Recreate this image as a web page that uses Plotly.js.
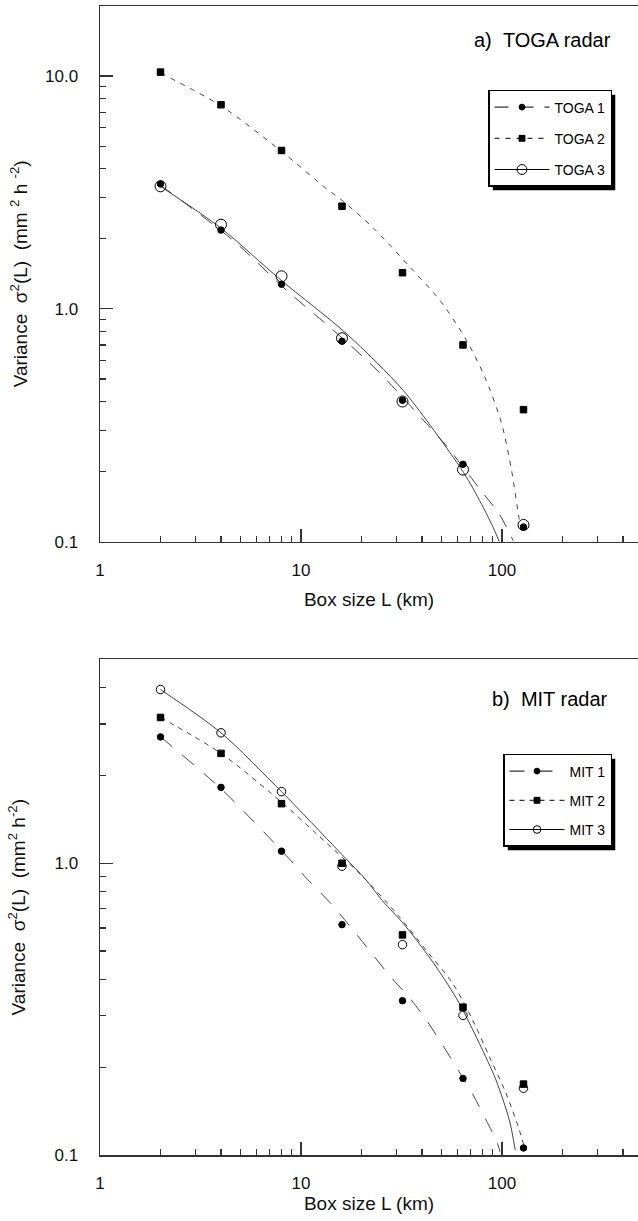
<!DOCTYPE html>
<html><head><meta charset="utf-8">
<script src="https://cdn.plot.ly/plotly-3.0.1.min.js"></script>
<style>html,body{margin:0;padding:0;background:#fff;} #chart{width:638px;height:1221px;}</style>
</head><body><div id="chart"></div>
<script>
// ---- data ----
const boxSize = [2, 4, 8, 16, 32, 64, 128];

// panel a) TOGA radar: measured variances
const toga1 = [3.44, 2.18, 1.276, 0.726, 0.405, 0.215, 0.1156];
const toga2 = [10.4, 7.53, 4.79, 2.76, 1.43, 0.70, 0.369];
const toga3 = [3.36, 2.30, 1.38, 0.748, 0.400, 0.204, 0.118];

// panel a) fitted curves (points read along the drawn curves)
const toga1FitL = [2, 4.59, 8.49, 13.9, 18.9, 24.7, 40.6, 53.1, 77.7, 97.7, 113.8];
const toga1FitV = [3.40, 1.97, 1.20, 0.835, 0.66, 0.53, 0.333, 0.257, 0.168, 0.130, 0.101];
const toga2FitL = [2, 4, 8, 13.4, 16.2, 23.1, 34.9, 49.2, 66.7, 82.3, 99.7, 111.7, 121.5, 125.3];
const toga2FitV = [10.3, 7.45, 4.75, 3.28, 2.90, 2.21, 1.51, 1.086, 0.731, 0.508, 0.321, 0.202, 0.127, 0.111];
const toga3FitL = [2, 4, 7.86, 16.9, 32.3, 57.3, 66.7, 80.7, 90.5, 97];
const toga3FitV = [3.36, 2.22, 1.34, 0.78, 0.446, 0.230, 0.189, 0.1404, 0.115, 0.1];

// panel b) MIT radar: measured variances
const mit1 = [2.71, 1.82, 1.10, 0.616, 0.338, 0.183, 0.1057];
const mit2 = [3.16, 2.38, 1.60, 1.00, 0.568, 0.321, 0.175];
const mit3 = [3.94, 2.80, 1.76, 0.977, 0.526, 0.301, 0.1694];

// panel b) fitted curves
const mit1FitL = [2, 4, 8.69, 10.8, 14.1, 18.1, 22.8, 28.2, 34.8, 42.5, 51.5, 61.2, 72.8, 83.2, 94.4, 97.8];
const mit1FitV = [2.71, 1.80, 1.04, 0.879, 0.727, 0.592, 0.485, 0.405, 0.345, 0.287, 0.234, 0.193, 0.158, 0.132, 0.111, 0.1026];
const mit2FitL = [2, 4, 8, 12.3, 20.2, 30.7, 41.8, 56.7, 71.4, 86.5, 104.7, 122, 129];
const mit2FitV = [3.16, 2.38, 1.62, 1.238, 0.902, 0.658, 0.505, 0.3885, 0.2906, 0.2175, 0.163, 0.1219, 0.1068];
const mit3FitL = [2, 4, 8, 15.4, 21, 25.4, 33.2, 46.9, 61.2, 77.1, 93.3, 108.8, 116.5];
const mit3FitV = [3.94, 2.80, 1.76, 1.10, 0.879, 0.745, 0.608, 0.443, 0.332, 0.2416, 0.181, 0.1318, 0.104];

const togaNames = ['TOGA 1', 'TOGA 2', 'TOGA 3'];
const mitNames = ['MIT 1', 'MIT 2', 'MIT 3'];
const panelLabels = ['a)\u00a0\u00a0TOGA radar', 'b)\u00a0\u00a0MIT radar'];
const xTitle = 'Box size L (km)';
const yTitleA = 'Variance\u00a0\u00a0\u03c3<sup>2</sup>(L)\u00a0\u00a0(mm\u00a0<sup>2</sup>\u00a0h\u00a0<sup>-2</sup>)';
const yTitleB = 'Variance\u00a0\u00a0\u03c3<sup>2</sup>(L)\u00a0\u00a0(mm<sup>2</sup>\u00a0h<sup>-2</sup>)';

// ---- styling ----
const FONT = 'Liberation Sans, Arial, Helvetica, sans-serif';
const LINE_COL = '#444';
const styleA = [
  {dash: '14px,11px', symbol: 'circle', size: 6.5},
  {dash: '5px,6px', symbol: 'square', size: 6.5},
  {dash: 'solid', symbol: 'circle-open', size: 11}
];
const styleB = [
  {dash: '15px,13px', symbol: 'circle', size: 6.5},
  {dash: '5px,5px', symbol: 'square', size: 6.5},
  {dash: 'solid', symbol: 'circle-open', size: 8.5}
];

function panelTraces(fits, pts, names, styles, xa, ya, leg) {
  const tr = [];
  fits.forEach((f, i) => tr.push({
    x: f[0], y: f[1], xaxis: xa, yaxis: ya, mode: 'lines', type: 'scatter',
    line: {color: LINE_COL, width: 1, dash: styles[i].dash, shape: 'spline', smoothing: 0.8},
    showlegend: false, hoverinfo: 'skip', legendgroup: leg + i
  }));
  [2, 1, 0].forEach(i => tr.push({
    x: boxSize, y: pts[i], xaxis: xa, yaxis: ya, mode: 'markers', type: 'scatter',
    marker: {symbol: styles[i].symbol, size: styles[i].size, color: '#000',
             line: {color: '#000', width: 1}},
    showlegend: false, legendgroup: leg + i, name: names[i]
  }));
  [0, 1, 2].forEach(i => tr.push({
    x: [null], y: [null], xaxis: xa, yaxis: ya, mode: 'lines+markers', type: 'scatter',
    name: names[i], legend: leg, legendgroup: leg + i,
    line: {color: '#000', width: 1, dash: styles[i].dash},
    marker: {symbol: styles[i].symbol, size: styles[i].size * 0.9, color: '#000',
             line: {color: '#000', width: 1}},
    showlegend: true
  }));
  return tr;
}

const data = [].concat(
  panelTraces([[toga1FitL, toga1FitV], [toga2FitL, toga2FitV], [toga3FitL, toga3FitV]],
              [toga1, toga2, toga3], togaNames, styleA, 'x', 'y', 'legend'),
  panelTraces([[mit1FitL, mit1FitV], [mit2FitL, mit2FitV], [mit3FitL, mit3FitV]],
              [mit1, mit2, mit3], mitNames, styleB, 'x2', 'y2', 'legend2')
);

function xAxis(anchor, standoff) {
  return {
    type: 'log', range: [0, 2.677], anchor: anchor, domain: [0, 1],
    showline: true, linecolor: '#333', linewidth: 1.5, mirror: true,
    ticks: 'inside', ticklen: 13, tickwidth: 1.2, tickcolor: '#333', dtick: 1,
    minor: {ticks: 'inside', ticklen: 6, tickwidth: 1.2, tickcolor: '#333', dtick: 'D1'},
    showgrid: false, zeroline: false, ticklabelstandoff: 12, automargin: false,
    tickfont: {family: FONT, size: 17, color: '#111'},
    title: {text: xTitle, font: {family: FONT, size: 19, color: '#111'}, standoff: standoff}
  };
}
function yAxis(anchor, domain, top, title, standoff) {
  return {
    type: 'log', range: [-1, top], anchor: anchor, domain: domain,
    showline: true, linecolor: '#333', linewidth: 1.5, mirror: false,
    ticks: 'inside', ticklen: 13, tickwidth: 1.2, tickcolor: '#333', dtick: 1, tickformat: '.1f',
    minor: {ticks: 'inside', ticklen: 6, tickwidth: 1.2, tickcolor: '#333', dtick: 'D1'},
    showgrid: false, zeroline: false, ticklabelstandoff: 17, automargin: false,
    tickfont: {family: FONT, size: 17, color: '#111'},
    title: {text: title, font: {family: FONT, size: 19, color: '#111'}, standoff: standoff}
  };
}
const legendBase = {
  xref: 'paper', yref: 'paper', xanchor: 'right', yanchor: 'top',
  bgcolor: '#fff', bordercolor: '#000', borderwidth: 1.5,
  font: {family: FONT, size: 14, color: '#000'}, itemwidth: 55,
  itemclick: false, itemdoubleclick: false
};

const layout = {
  width: 638, height: 1221, paper_bgcolor: '#fff', plot_bgcolor: '#fff',
  margin: {l: 100, r: 0, t: 6, b: 66, autoexpand: false}, showlegend: true,
  font: {family: FONT, color: '#000'},
  xaxis: xAxis('y', 14),
  yaxis: yAxis('x', [0.5338, 1], Math.log10(20), yTitleA, 12),
  xaxis2: xAxis('y2', 4),
  yaxis2: yAxis('x2', [0, 0.4314], Math.log10(5), yTitleB, 24),
  legend: Object.assign({}, legendBase, {x: 0.9517, y: 0.9269, tracegroupgap: 10}),
  legend2: Object.assign({}, legendBase, {x: 0.9517, y: 0.349, tracegroupgap: 8}),
  annotations: [
    {text: panelLabels[0], xref: 'x domain', yref: 'y domain', x: 0.9535, y: 0.936,
     xanchor: 'right', yanchor: 'middle', showarrow: false, font: {family: FONT, size: 20, color: '#000'}},
    {text: panelLabels[1], xref: 'x2 domain', yref: 'y2 domain', x: 0.948, y: 0.92,
     xanchor: 'right', yanchor: 'middle', showarrow: false, font: {family: FONT, size: 20, color: '#000'}}
  ]
};

const gd = document.getElementById('chart');
Plotly.newPlot(gd, data, layout, {staticPlot: true, displayModeBar: false}).then(() => {
  const sz = gd._fullLayout._size;
  const gBox = gd.getBoundingClientRect();
  const shapes = [];
  gd.querySelectorAll('.infolayer > g').forEach(g => {
    const cls = g.getAttribute('class') || '';
    if (!/^legend/.test(cls)) return;
    const bg = g.querySelector('rect.bg');
    if (!bg) return;
    const r = bg.getBoundingClientRect();
    const off = 4;
    const toX = px => (px - gBox.left - sz.l) / sz.w;
    const toY = py => 1 - (py - gBox.top - sz.t) / sz.h;
    shapes.push({type: 'rect', xref: 'paper', yref: 'paper', layer: 'above',
      x0: toX(r.left + off), x1: toX(r.right + off), y0: toY(r.bottom + off), y1: toY(r.top + off),
      fillcolor: '#000', line: {width: 0}});
  });
  return Plotly.relayout(gd, {shapes: shapes});
});
</script>
</body></html>
